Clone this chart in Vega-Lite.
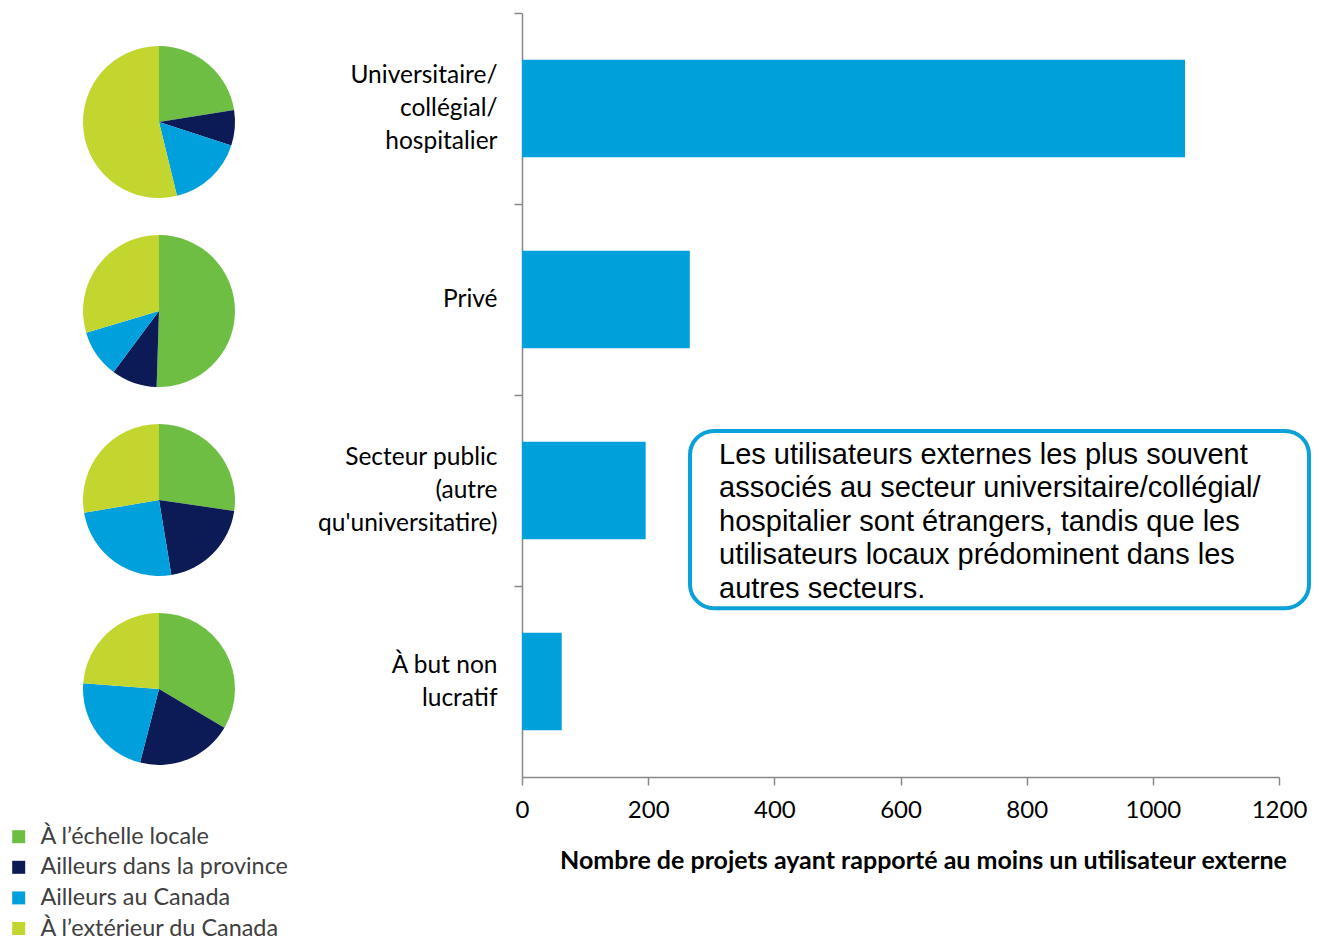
{
  "$schema": "https://vega.github.io/schema/vega-lite/v6.json",
  "padding": {"left": 0, "top": 12, "right": 0, "bottom": 0},
  "background": "white",
  "config": {
    "view": {"stroke": null},
    "font": "Lato",
    "axis": {"grid": false, "domainColor": "#888888", "tickColor": "#888888", "domainWidth": 1.5, "tickWidth": 1.5, "labelColor": "#000000", "titleColor": "#000000", "labelFont": "Lato", "titleFont": "Lato"}
  },
  "datasets": {
    "pies": [
      {"secteur": "Universitaire", "lieu": "À l’échelle locale", "debut": 0, "fin": 22.5},
      {"secteur": "Universitaire", "lieu": "Ailleurs dans la province", "debut": 22.5, "fin": 30},
      {"secteur": "Universitaire", "lieu": "Ailleurs au Canada", "debut": 30, "fin": 46.2},
      {"secteur": "Universitaire", "lieu": "À l’extérieur du Canada", "debut": 46.2, "fin": 100},
      {"secteur": "Privé", "lieu": "À l’échelle locale", "debut": 0, "fin": 50.5},
      {"secteur": "Privé", "lieu": "Ailleurs dans la province", "debut": 50.5, "fin": 60.2},
      {"secteur": "Privé", "lieu": "Ailleurs au Canada", "debut": 60.2, "fin": 70.4},
      {"secteur": "Privé", "lieu": "À l’extérieur du Canada", "debut": 70.4, "fin": 100},
      {"secteur": "Public", "lieu": "À l’échelle locale", "debut": 0, "fin": 27.3},
      {"secteur": "Public", "lieu": "Ailleurs dans la province", "debut": 27.3, "fin": 47.4},
      {"secteur": "Public", "lieu": "Ailleurs au Canada", "debut": 47.4, "fin": 72.3},
      {"secteur": "Public", "lieu": "À l’extérieur du Canada", "debut": 72.3, "fin": 100},
      {"secteur": "OBNL", "lieu": "À l’échelle locale", "debut": 0, "fin": 33.5},
      {"secteur": "OBNL", "lieu": "Ailleurs dans la province", "debut": 33.5, "fin": 54},
      {"secteur": "OBNL", "lieu": "Ailleurs au Canada", "debut": 54, "fin": 76.2},
      {"secteur": "OBNL", "lieu": "À l’extérieur du Canada", "debut": 76.2, "fin": 100}
    ],
    "barres": [
      {"secteur": "Universitaire/\ncollégial/\nhospitalier", "projets": 1051},
      {"secteur": "Privé", "projets": 266},
      {"secteur": "Secteur public\n(autre\nqu'universitatire)", "projets": 196},
      {"secteur": "À but non\nlucratif", "projets": 63}
    ],
    "note": [
      {"x": 266.3, "x2": 1247.6, "y": 54.7, "y2": 77.9, "tx": 312.3, "ty": 59.0,
       "texte": "Les utilisateurs externes les plus souvent\nassociés au secteur universitaire/collégial/\nhospitalier sont étrangers, tandis que les\nutilisateurs locaux prédominent dans les\nautres secteurs."}
    ]
  },
  "bounds": "flush",
  "center": false,
  "spacing": 204,
  "hconcat": [
    {
      "width": 318, "height": 764,
      "data": {"name": "pies"},
      "mark": {"type": "arc", "outerRadius": 76},
      "encoding": {
        "y": {"field": "secteur", "type": "nominal", "sort": ["Universitaire", "Privé", "Public", "OBNL"], "scale": {"paddingInner": 0, "paddingOuter": 0, "range": [14.5, 770.5]}, "axis": null},
        "theta": {"field": "debut", "type": "quantitative", "scale": {"domain": [0, 100]}},
        "theta2": {"field": "fin"},
        "color": {"field": "lieu", "type": "nominal",
          "scale": {"domain": ["À l’échelle locale", "Ailleurs dans la province", "Ailleurs au Canada", "À l’extérieur du Canada"], "range": ["#6fbe44", "#0c1b56", "#00a0dc", "#c3d52f"]},
          "legend": {"orient": "none", "legendX": 7, "legendY": 812, "title": null, "symbolType": "square", "symbolSize": 169, "symbolStrokeWidth": 0, "labelFontSize": 23.4, "labelColor": "#404040", "labelFont": "Lato", "rowPadding": 5.6, "labelOffset": 10, "padding": 0, "labelLimit": 400}
        }
      }
    },
    {
      "width": 757, "height": 764,
      "resolve": {"scale": {"y": "independent"}, "axis": {"y": "independent"}},
      "layer": [
        {
          "data": {"name": "barres"},
          "mark": {"type": "bar", "color": "#00a0da"},
          "encoding": {
            "y": {"field": "secteur", "type": "nominal", "sort": null,
              "scale": {"paddingInner": 0.49, "paddingOuter": 0.245},
              "axis": {"title": null, "labelExpr": "split(datum.label, '\\n')", "labelFontSize": 24.5, "labelLineHeight": 33, "labelAlign": "right", "labelPadding": 17, "tickSize": 8, "tickOffset": -95.5,
                "labelOffset": {"condition": [
                  {"test": "length(split(datum.value, '\\n')) == 3", "value": 62.5},
                  {"test": "length(split(datum.value, '\\n')) == 2", "value": 79}
                ], "value": 95.5},
                "labelLimit": 400}},
            "x": {"field": "projets", "type": "quantitative",
              "scale": {"domain": [0, 1200], "nice": false},
              "axis": {"values": [0, 200, 400, 600, 800, 1000, 1200], "format": "d", "labelFlush": false, "tickSize": 8, "labelFontSize": 24, "labelPadding": 13, "title": "Nombre de projets ayant rapporté au moins un utilisateur externe", "titleFontSize": 25, "titleFontWeight": "bold", "titlePadding": 26, "titleX": 401}}
          }
        },
        {
          "data": {"name": "note"},
          "mark": {"type": "rect", "fill": "white", "stroke": "#0aa0d8", "strokeWidth": 4, "cornerRadius": 24},
          "encoding": {
            "x": {"field": "x", "type": "quantitative"},
            "x2": {"field": "x2"},
            "y": {"field": "y", "type": "quantitative", "scale": {"domain": [0, 100], "reverse": true, "nice": false}, "axis": null},
            "y2": {"field": "y2"}
          }
        },
        {
          "data": {"name": "note"},
          "mark": {"type": "text", "font": "Liberation Sans", "fontSize": 29, "lineHeight": 33.5, "align": "left", "baseline": "alphabetic", "lineBreak": "\n", "color": "#000000"},
          "encoding": {
            "x": {"field": "tx", "type": "quantitative"},
            "y": {"field": "ty", "type": "quantitative", "scale": {"domain": [0, 100], "reverse": true, "nice": false}, "axis": null},
            "text": {"field": "texte"}
          }
        }
      ]
    }
  ]
}
